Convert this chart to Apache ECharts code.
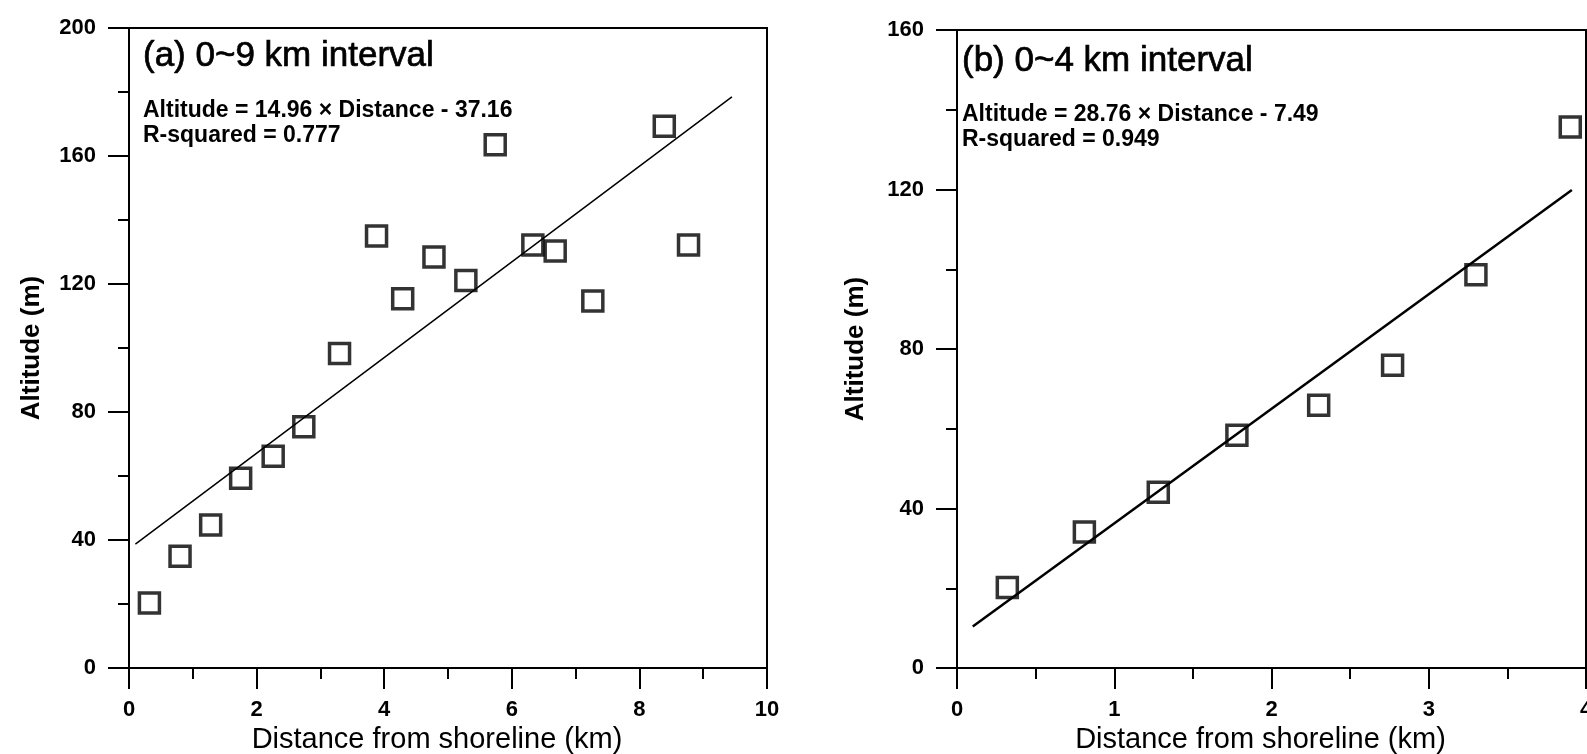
<!DOCTYPE html>
<html>
<head>
<meta charset="utf-8">
<script src="https://cdn.jsdelivr.net/npm/echarts@6/dist/echarts.min.js"></script>
<style>
  html, body { margin: 0; padding: 0; background: #fff; }
  #main { width: 1587px; height: 754px; }
</style>
</head>
<body>
<div id="main"></div>
<script>
// (a) 0~9 km: distance (km) / altitude (m)
var distA = [0.32, 0.80, 1.28, 1.75, 2.26, 2.74, 3.30, 3.88, 4.29, 4.78, 5.28, 5.74, 6.33, 6.68, 7.27, 8.39, 8.77];
var altA  = [20.3, 34.9, 44.7, 59.3, 66.2, 75.4, 98.3, 135.0, 115.4, 128.4, 121.1, 163.5, 132.2, 130.3, 114.7, 169.3, 132.2];
// (b) 0~4 km
var distB = [0.32, 0.81, 1.28, 1.78, 2.30, 2.77, 3.30, 3.90];
var altB  = [20.2, 34.1, 44.1, 58.4, 65.9, 75.9, 98.6, 135.7];
// regression line end points
var fitA = [[0.1, 38.7], [9.45, 178.5]];
var fitB = [[0.1, 10.4], [3.91, 119.9]];

var titleA = '(a) 0~9 km interval';
var eqA = 'Altitude = 14.96 \u00d7 Distance - 37.16\nR-squared = 0.777';
var titleB = '(b) 0~4 km interval';
var eqB = 'Altitude = 28.76 \u00d7 Distance - 7.49\nR-squared = 0.949';

var font = "'Liberation Sans', Arial, sans-serif";

function pairs(xs, ys) {
    return xs.map(function (x, i) { return [x, ys[i]]; });
}

function xAxisOf(gi, max, step) {
    return {
        type: 'value', gridIndex: gi, min: 0, max: max, interval: step,
        name: 'Distance from shoreline (km)',
        nameLocation: 'middle', nameGap: 53,
        nameTextStyle: { fontFamily: font, fontSize: 29, color: '#000', padding: [0, 22, 0, 0] },
        axisLine: { lineStyle: { color: '#000', width: 2 } },
        axisTick: { length: 21, lineStyle: { color: '#000', width: 2 } },
        minorTick: { show: true, splitNumber: 2, length: 11, lineStyle: { color: '#000', width: 2 } },
        axisLabel: { margin: 31, fontFamily: font, fontSize: 22, fontWeight: 'bold', color: '#000' },
        splitLine: { show: false }
    };
}

function yAxisOf(gi, max, gap) {
    return {
        type: 'value', gridIndex: gi, min: 0, max: max, interval: 40,
        name: 'Altitude (m)',
        nameLocation: 'middle', nameGap: gap,
        nameTextStyle: { fontFamily: font, fontSize: 26, fontWeight: 'bold', color: '#000' },
        axisLine: { lineStyle: { color: '#000', width: 2 } },
        axisTick: { length: 21, lineStyle: { color: '#000', width: 2 } },
        minorTick: { show: true, splitNumber: 2, length: 11, lineStyle: { color: '#000', width: 2 } },
        axisLabel: { margin: 33, fontFamily: font, fontSize: 22, fontWeight: 'bold', color: '#000' },
        splitLine: { show: false }
    };
}

var squares = {
    type: 'scatter', symbol: 'rect', symbolSize: 20,
    itemStyle: { color: 'rgba(0,0,0,0)', borderColor: '#000', borderWidth: 3.5 },
    z: 3
};

var headStyle = { fontFamily: font, fontSize: 35, fontWeight: 'normal', color: '#000', lineHeight: 40,
                  textBorderColor: '#000', textBorderWidth: 0.7 };
var eqStyle = { fontFamily: font, fontSize: 23, fontWeight: 'bold', color: '#000', lineHeight: 25 };

var myChart = echarts.init(document.getElementById('main'));
var option = {
    animation: false,
    backgroundColor: '#fff',
    title: [
        { text: titleA, left: 143, top: 36, padding: 0, textStyle: headStyle },
        { text: eqA, left: 143, top: 98, padding: 0, textStyle: eqStyle },
        { text: titleB, left: 962, top: 41, padding: 0, textStyle: headStyle },
        { text: eqB, left: 962, top: 102, padding: 0, textStyle: eqStyle }
    ],
    grid: [
        { left: 129, top: 28, width: 638, height: 640, outerBoundsMode: 'none',
          show: true, borderColor: '#000', borderWidth: 2 },
        { left: 957, top: 30, width: 629, height: 638, outerBoundsMode: 'none',
          show: true, borderColor: '#000', borderWidth: 2 }
    ],
    xAxis: [xAxisOf(0, 10, 2), xAxisOf(1, 4, 1)],
    yAxis: [yAxisOf(0, 200, 84), yAxisOf(1, 160, 88)],
    series: [
        Object.assign({}, squares, { xAxisIndex: 0, yAxisIndex: 0, data: pairs(distA, altA) }),
        { type: 'line', xAxisIndex: 0, yAxisIndex: 0, data: fitA, showSymbol: false,
          lineStyle: { color: '#000', width: 1.5 } },
        Object.assign({}, squares, { xAxisIndex: 1, yAxisIndex: 1, data: pairs(distB, altB) }),
        { type: 'line', xAxisIndex: 1, yAxisIndex: 1, data: fitB, showSymbol: false,
          lineStyle: { color: '#000', width: 2.5 } }
    ]
};
myChart.setOption(option);
</script>
</body>
</html>
